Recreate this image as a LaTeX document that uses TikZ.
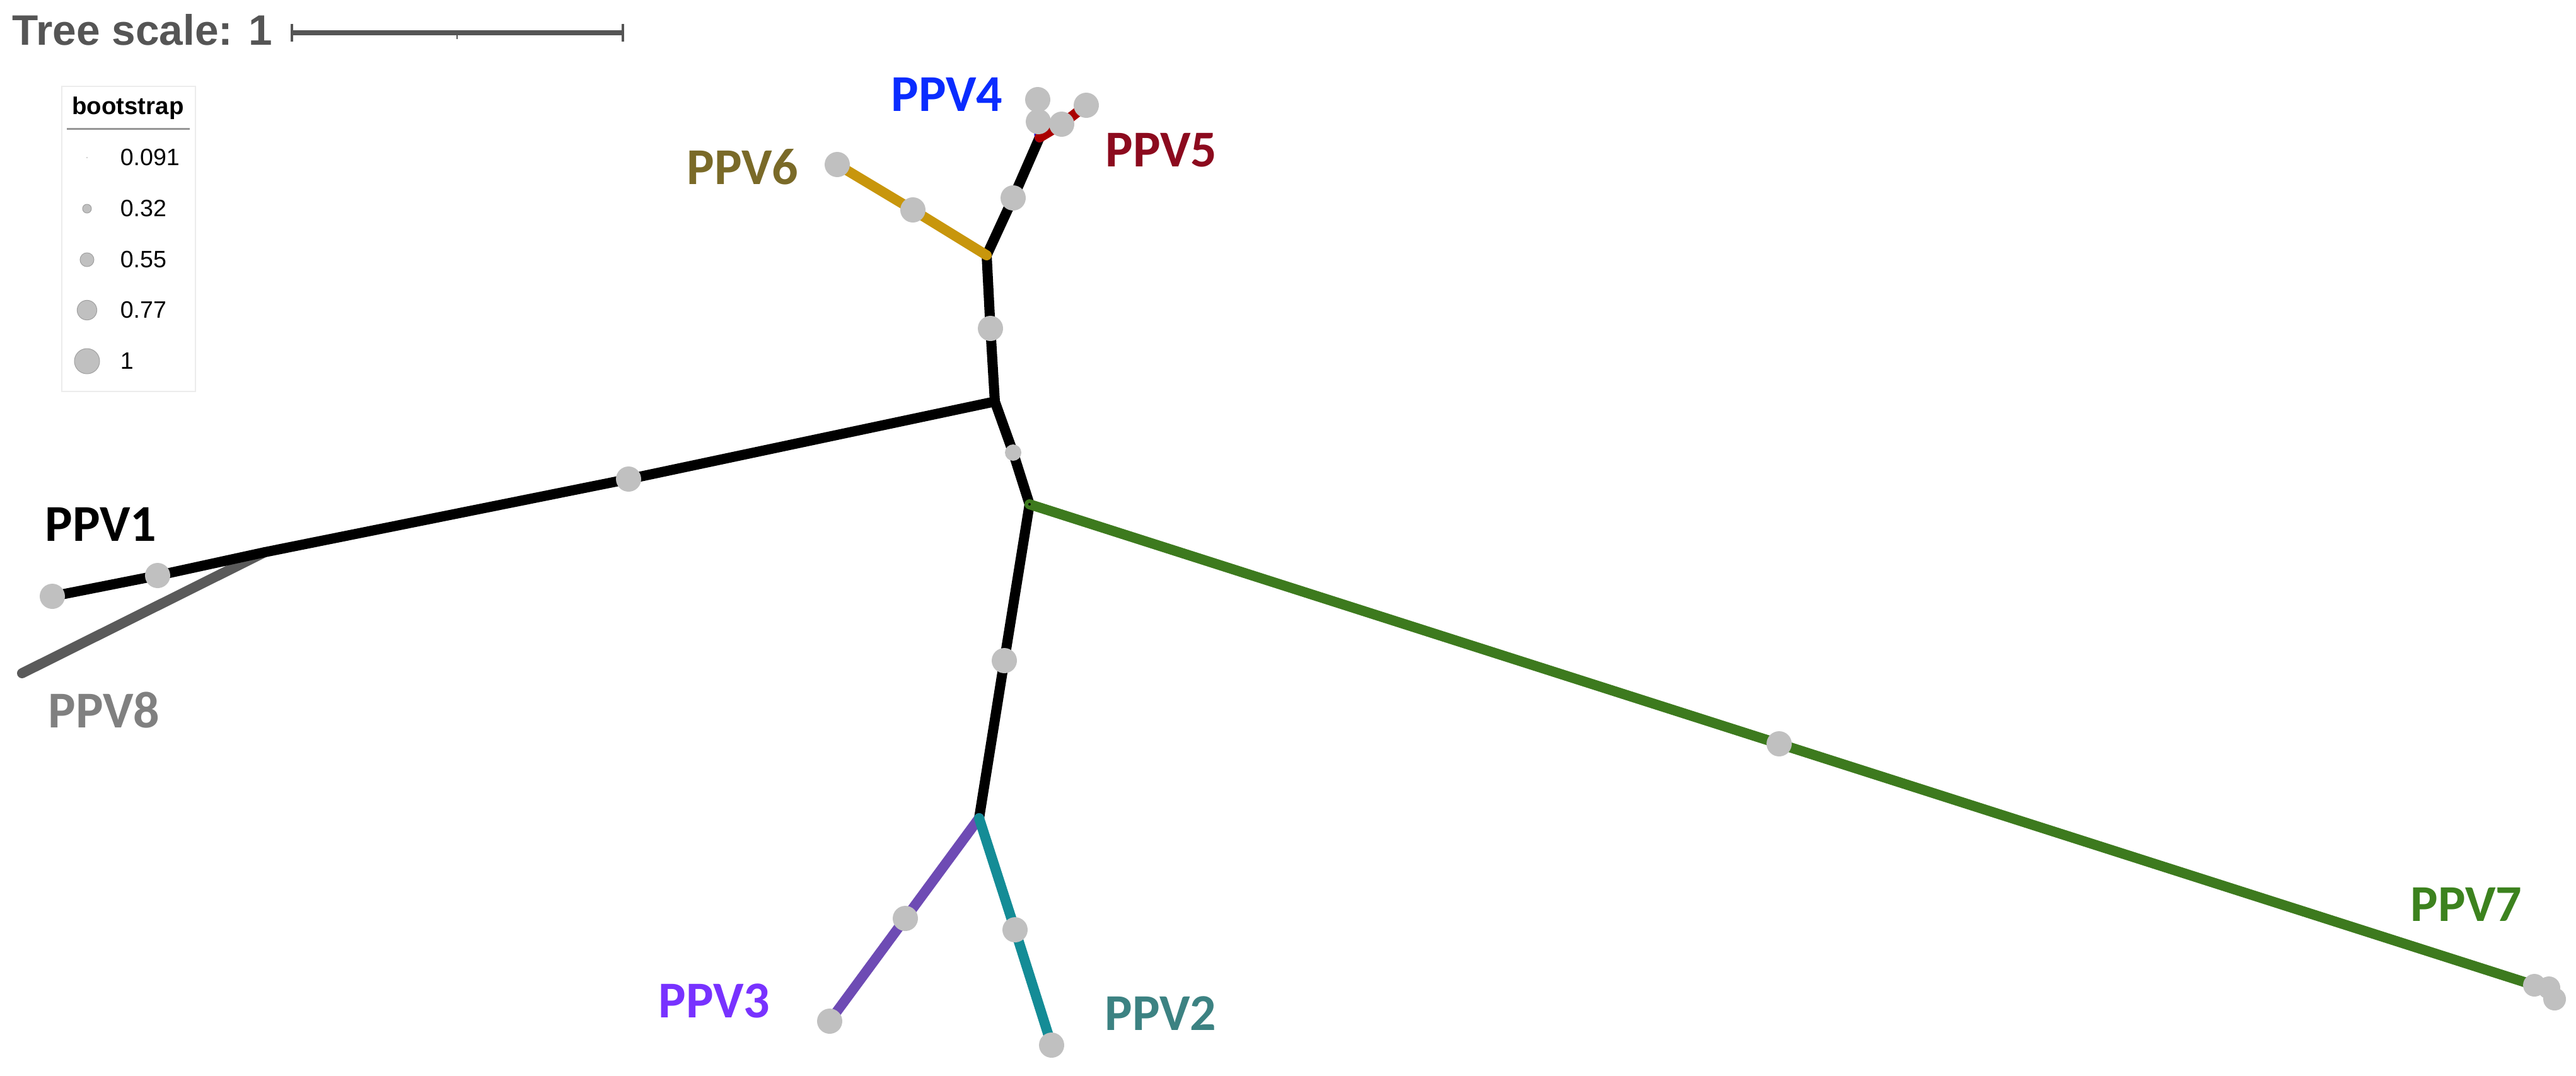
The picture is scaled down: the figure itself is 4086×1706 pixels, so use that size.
\documentclass[tikz,border=0pt]{standalone}
\usepackage{fontspec}
\setmainfont{Liberation Sans}
\newfontfamily\labfont{Carlito}
\usetikzlibrary{backgrounds}
\definecolor{bsgray}{RGB}{192,192,192}
\definecolor{bsedge}{RGB}{160,160,160}
\definecolor{scalegray}{RGB}{85,85,85}
\definecolor{goldbr}{RGB}{200,150,12}
\definecolor{oliveLab}{RGB}{122,106,40}
\definecolor{blueLab}{RGB}{10,44,255}
\definecolor{bluebr}{RGB}{0,0,255}
\definecolor{redbr}{RGB}{170,0,0}
\definecolor{redLab}{RGB}{140,10,30}
\definecolor{greenbr}{RGB}{61,122,30}
\definecolor{greenLab}{RGB}{60,130,30}
\definecolor{purplebr}{RGB}{110,75,180}
\definecolor{purpleLab}{RGB}{120,50,255}
\definecolor{tealbr}{RGB}{20,140,150}
\definecolor{tealLab}{RGB}{60,130,130}
\definecolor{ppveightbr}{RGB}{90,90,90}
\definecolor{ppveightLab}{RGB}{128,128,128}
\begin{document}
\begin{tikzpicture}[x=0.25pt,y=-0.25pt,
  branch/.style={line width=4pt,line cap=round,line join=round},
  bs/.style={circle,fill=bsgray,draw=none,inner sep=0pt,minimum size=10pt},
  bsmini/.style={circle,fill=black,inner sep=0pt,minimum size=1pt},
  leaflab/.style={font=\labfont\bfseries\fontsize{20.5pt}{22pt}\selectfont,inner sep=0pt},
  legc/.style={circle,fill=bsgray,draw=bsedge,line width=0.25pt,inner sep=0pt},
  legt/.style={font=\fontsize{9.4pt}{11pt}\selectfont,anchor=west,inner sep=0pt},
  scalebar/.style={draw=scalegray,line width=1.8pt}
]
\useasboundingbox (0,0) rectangle (4086,1706);

% ---------- tree scale ----------
\node[anchor=west,inner sep=0pt,text=scalegray,font=\bfseries\fontsize{16.9pt}{18pt}\selectfont] (tscale) at (19,47) {Tree scale: 1};
\coordinate (sbL) at (463,52);
\coordinate (sbM) at (725,52);
\coordinate (sbR) at (988,52);
\draw[scalebar] (sbL) -- (sbR);
\draw[scalebar,line width=0.9pt] ([yshift=3.6pt]sbL) -- ([yshift=-3.6pt]sbL);
\draw[scalebar,line width=0.9pt] ([yshift=3.6pt]sbR) -- ([yshift=-3.6pt]sbR);
\draw[scalebar,line width=0.6pt] (sbM) -- ([yshift=-2.6pt]sbM);

% ---------- legend ----------
\node[draw={rgb,255:red,236;green,236;blue,236},line width=0.3pt,minimum width=53pt,minimum height=121pt,inner sep=0pt] (legbox) at (204,379) {};
\node[inner sep=0pt,font=\bfseries\fontsize{9.6pt}{11pt}\selectfont] (legtitle) at (203,172) {bootstrap};
\coordinate (ulL) at (106,204);
\coordinate (ulR) at (301,204);
\draw[draw={rgb,255:red,150;green,150;blue,150},line width=0.75pt] (ulL) -- (ulR);
\node[legc,minimum size=0.6pt,line width=0pt,draw=none] (lc1) at (138,250) {};
\node[legc,minimum size=3.5pt] (lc2) at (138,331) {};
\node[legc,minimum size=5.5pt] (lc3) at (138,412) {};
\node[legc,minimum size=7.8pt] (lc4) at (138,492) {};
\node[legc,minimum size=10pt] (lc5) at (138,573) {};
\node[legt] (lt1) at (190,250) {0.091};
\node[legt] (lt2) at (190,331) {0.32};
\node[legt] (lt3) at (190,412) {0.55};
\node[legt] (lt4) at (190,492) {0.77};
\node[legt] (lt5) at (190,573) {1};

% ---------- tree: internal coordinates ----------
\coordinate (A) at (1578,637);
\coordinate (B) at (1633,800);
\coordinate (C) at (1565,405);
\coordinate (D) at (1649,218);
\coordinate (E) at (1553,1298);
\coordinate (F) at (420,876);
\coordinate (t8) at (35,1068);

% bootstrap circles
\node[bs,minimum size=6.5pt] (bAB) at (1607,718) {};
\node[bs] (bAC) at (1571,521) {};
\node[bs] (bCD) at (1607,314) {};
\node[bs] (bAF) at (997,760) {};
\node[bs] (bF1) at (250,913) {};
\node[bs] (t1) at (83,946) {};
\node[bs] (bC6) at (1448,333) {};
\node[bs] (t6) at (1328,261) {};
\node[bs] (t4a) at (1647,193) {};
\node[bs] (t4b) at (1646,158) {};
\node[bs] (t5a) at (1684,197) {};
\node[bs] (t5b) at (1723,167) {};
\node[bs] (bBE) at (1593,1048) {};
\node[bs] (bE3) at (1436,1457) {};
\node[bs] (t3) at (1316,1620) {};
\node[bs] (bE2) at (1610,1475) {};
\node[bs] (t2) at (1668,1658) {};
\node[bs] (bB7) at (2822,1180) {};
\node[bs,minimum size=9pt] (t7) at (4020,1563) {};
\node[bs,minimum size=9pt] (t7b) at (4043,1567) {};
\node[bs,minimum size=9pt] (t7c) at (4052,1585) {};
\node[bsmini] (bB) at (B) {};

% branches (behind the circles)
\begin{scope}[on background layer]
\draw[branch,color=ppveightbr] (t8) -- (F);
\draw[branch,color=black] (t1.center) -- (bF1.center) -- (F) -- (bAF.center) -- (A) -- (bAB.center) -- (B);
\draw[branch,color=black] (A) -- (bAC.center) -- (C) -- (bCD.center) -- (D);
\draw[branch,color=black] (B) -- (bBE.center) -- (E);
\draw[branch,color=goldbr] (C) -- (bC6.center) -- (t6.center);
\draw[branch,color=bluebr] (D) -- (t4a.center) -- (t4b.center);
\draw[branch,color=redbr] (D) -- (t5a.center) -- (t5b.center);
\draw[branch,color=greenbr] (B) -- (bB7.center) -- (t7.center);
\draw[branch,color=purplebr] (E) -- (bE3.center) -- (t3.center);
\draw[branch,color=tealbr] (E) -- (bE2.center) -- (t2.center);
\end{scope}

% ---------- leaf labels ----------
\node[leaflab,text=black] (L1) at (160,832) {PPV1};
\node[leaflab,text=ppveightLab] (L8) at (165,1126) {PPV8};
\node[leaflab,text=blueLab] (L4) at (1502,150) {PPV4};
\node[leaflab,text=redLab] (L5) at (1842,238) {PPV5};
\node[leaflab,text=oliveLab] (L6) at (1178,265) {PPV6};
\node[leaflab,text=purpleLab] (L3) at (1133,1588) {PPV3};
\node[leaflab,text=tealLab] (L2) at (1841,1608) {PPV2};
\node[leaflab,text=greenLab] (L7) at (3912,1435) {PPV7};
\end{tikzpicture}
\end{document}
